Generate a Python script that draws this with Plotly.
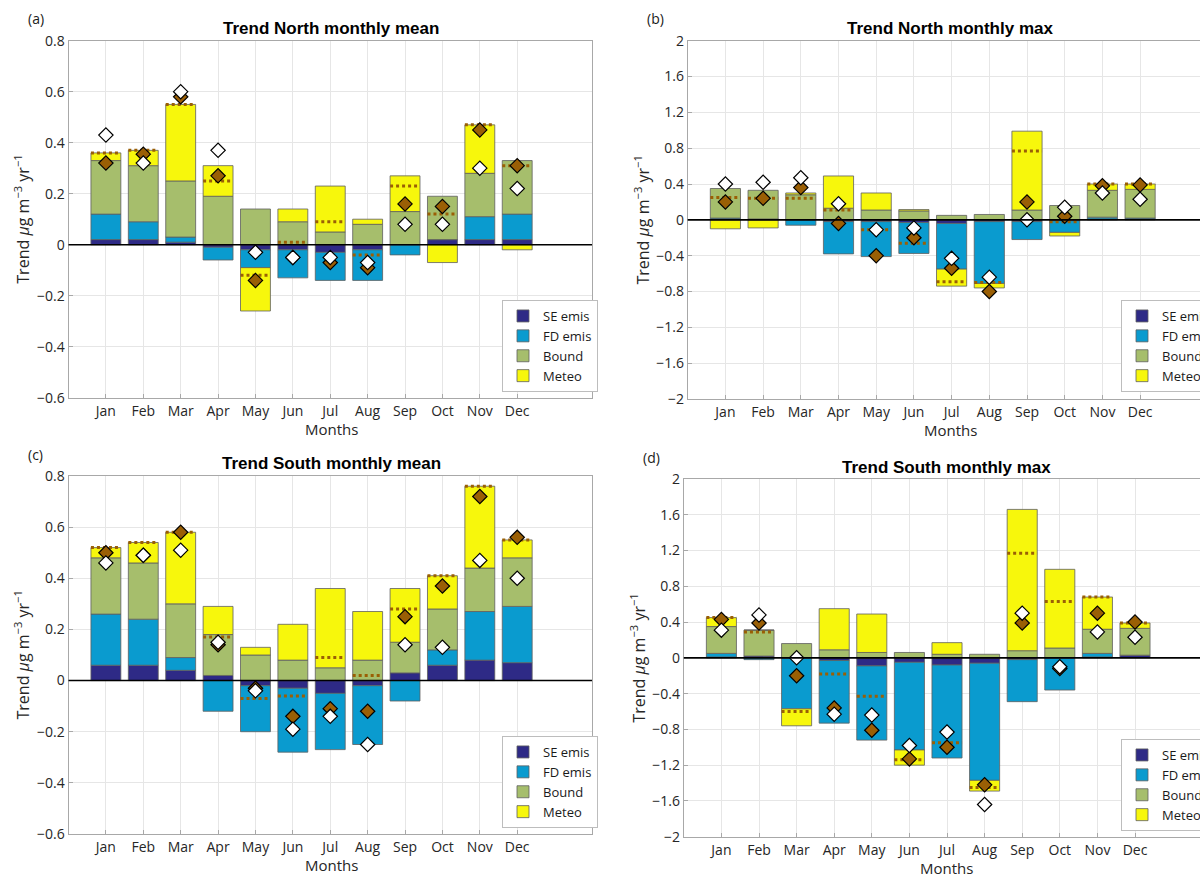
import numpy as np
import plotly.graph_objects as go

months = ['Jan', 'Feb', 'Mar', 'Apr', 'May', 'Jun', 'Jul', 'Aug', 'Sep', 'Oct', 'Nov', 'Dec']
series_names = ['SE emis', 'FD emis', 'Bound', 'Meteo']

# (a) Trend North monthly mean
a_se = [0.02, 0.02, 0.01, -0.01, -0.02, -0.02, -0.03, -0.02, 0.0, 0.02, 0.02, 0.02]
a_fd = [0.10, 0.07, 0.02, -0.05, -0.07, -0.11, -0.11, -0.12, -0.04, 0.0, 0.09, 0.10]
a_bound = [0.21, 0.22, 0.22, 0.19, 0.14, 0.09, 0.05, 0.08, 0.13, 0.17, 0.17, 0.21]
a_meteo = [0.03, 0.06, 0.30, 0.12, -0.17, 0.05, 0.18, 0.02, 0.14, -0.07, 0.19, -0.02]
a_brown = [0.32, 0.355, 0.58, 0.27, -0.14, -0.05, -0.07, -0.09, 0.16, 0.15, 0.45, 0.31]
a_white = [0.43, 0.32, 0.60, 0.37, -0.03, -0.05, -0.05, -0.07, 0.08, 0.08, 0.30, 0.22]

# (b) Trend North monthly max
b_se = [0.01, 0.01, 0.0, -0.02, -0.02, -0.03, -0.04, -0.02, -0.02, -0.01, 0.01, 0.01]
b_fd = [0.01, 0.0, -0.06, -0.36, -0.39, -0.345, -0.51, -0.69, -0.20, -0.13, 0.02, 0.01]
b_bound = [0.33, 0.32, 0.28, 0.13, 0.11, 0.10, 0.05, 0.06, 0.11, 0.16, 0.30, 0.32]
b_meteo = [-0.10, -0.09, 0.02, 0.36, 0.19, 0.015, -0.19, -0.05, 0.88, -0.04, 0.07, 0.06]
b_brown = [0.20, 0.24, 0.36, -0.04, -0.40, -0.20, -0.54, -0.80, 0.20, 0.04, 0.38, 0.39]
b_white = [0.40, 0.42, 0.47, 0.18, -0.11, -0.09, -0.43, -0.64, 0.0, 0.14, 0.30, 0.23]

# (c) Trend South monthly mean
c_se = [0.06, 0.06, 0.04, 0.02, -0.02, -0.03, -0.05, -0.02, 0.03, 0.06, 0.08, 0.07]
c_fd = [0.20, 0.18, 0.05, -0.12, -0.18, -0.25, -0.22, -0.23, -0.08, 0.06, 0.19, 0.22]
c_bound = [0.22, 0.22, 0.21, 0.16, 0.10, 0.08, 0.05, 0.08, 0.12, 0.16, 0.17, 0.19]
c_meteo = [0.04, 0.08, 0.28, 0.11, 0.03, 0.14, 0.31, 0.19, 0.21, 0.13, 0.32, 0.07]
c_brown = [0.50, 0.49, 0.58, 0.14, -0.03, -0.14, -0.11, -0.12, 0.25, 0.37, 0.72, 0.56]
c_white = [0.46, 0.49, 0.51, 0.15, -0.04, -0.19, -0.14, -0.25, 0.14, 0.13, 0.47, 0.40]

# (d) Trend South monthly max
d_se = [0.01, 0.02, 0.0, -0.03, -0.09, -0.05, -0.08, -0.06, -0.02, 0.0, 0.01, 0.03]
d_fd = [0.04, -0.02, -0.57, -0.70, -0.83, -0.98, -1.04, -1.31, -0.47, -0.36, 0.04, 0.0]
d_bound = [0.30, 0.29, 0.16, 0.09, 0.06, 0.06, 0.04, 0.04, 0.08, 0.11, 0.27, 0.30]
d_meteo = [0.10, 0.0, -0.19, 0.46, 0.43, -0.17, 0.13, -0.12, 1.58, 0.88, 0.36, 0.06]
d_brown = [0.43, 0.39, -0.20, -0.56, -0.81, -1.13, -1.00, -1.42, 0.39, -0.12, 0.50, 0.40]
d_white = [0.31, 0.48, 0.0, -0.63, -0.64, -0.98, -0.83, -1.64, 0.50, -0.10, 0.29, 0.23]

titles = ['Trend North monthly mean', 'Trend North monthly max',
          'Trend South monthly mean', 'Trend South monthly max']
panel_labels = ['(a)', '(b)', '(c)', '(d)']

mean_ticks = [-0.6, -0.4, -0.2, 0, 0.2, 0.4, 0.6, 0.8]
mean_ticktext = ['\u22120.6', '\u22120.4', '\u22120.2', '0', '0.2', '0.4', '0.6', '0.8']
max_ticks = [-2, -1.6, -1.2, -0.8, -0.4, 0, 0.4, 0.8, 1.2, 1.6, 2]
max_ticktext = ['\u22122', '\u22121.6', '\u22121.2', '\u22120.8', '\u22120.4', '0',
                '0.4', '0.8', '1.2', '1.6', '2']

colors = ['#2E2A86', '#0A9BCF', '#A6BE6C', '#F7F70C']
brown = '#9A5F05'
FONT = 'Open Sans'

panels = [
    dict(data=[a_se, a_fd, a_bound, a_meteo], brown=a_brown, white=a_white,
         xd=[68.5, 592], yd=[40.7, 397.7], yr=[-0.6, 0.8], xr=[0, 14],
         tv=mean_ticks, tt=mean_ticktext, leg=(502, 392), mirror_y=True, cx=331),
    dict(data=[b_se, b_fd, b_bound, b_meteo], brown=b_brown, white=b_white,
         xd=[687.7, 1200], yd=[40.7, 399], yr=[-2, 2], xr=[0, (1200 - 687.7) / 37.7],
         tv=max_ticks, tt=max_ticktext, leg=(1121, 392), mirror_y=False, cx=950),
    dict(data=[c_se, c_fd, c_bound, c_meteo], brown=c_brown, white=c_white,
         xd=[68.5, 592], yd=[476, 834], yr=[-0.6, 0.8], xr=[0, 14],
         tv=mean_ticks, tt=mean_ticktext, leg=(502, 828), mirror_y=True, cx=331),
    dict(data=[d_se, d_fd, d_bound, d_meteo], brown=d_brown, white=d_white,
         xd=[683.8, 1200], yd=[479, 836.7], yr=[-2, 2], xr=[0, (1200 - 683.8) / 37.6],
         tv=max_ticks, tt=max_ticktext, leg=(1121, 831), mirror_y=False, cx=946),
]

W, H = 1200, 874
xpos = [i + 1 for i in range(len(months))]
fig = go.Figure()
layout = dict(width=W, height=H, margin=dict(l=0, r=0, t=0, b=0, pad=0, autoexpand=False),
              plot_bgcolor='white', paper_bgcolor='white', barmode='relative',
              bargap=0.2, showlegend=True)
annotations = []
shapes = []

for k, p in enumerate(panels):
    sfx = '' if k == 0 else str(k + 1)
    xa, ya = 'x' + sfx, 'y' + sfx
    legname = 'legend' + sfx
    for name, vals, col in zip(series_names, p['data'], colors):
        fig.add_trace(go.Bar(
            x=xpos, y=vals, name=name,
            marker=dict(color=col, line=dict(color='rgba(95,95,95,0.8)', width=1)),
            width=0.8, xaxis=xa, yaxis=ya, legend=legname, showlegend=True))
    total = np.sum(np.array(p['data']), axis=0)
    lx, ly = [], []
    for i, s in zip(xpos, total):
        lx += [i - 0.4, i + 0.4, None]
        ly += [float(s), float(s), None]
    fig.add_trace(go.Scatter(x=lx, y=ly, mode='lines', line=dict(color=brown, width=3, dash='dot'),
                             xaxis=xa, yaxis=ya, showlegend=False, hoverinfo='skip'))
    fig.add_trace(go.Scatter(x=xpos, y=p['brown'], mode='markers',
                             marker=dict(symbol='diamond', size=11, color=brown,
                                         line=dict(color='black', width=1.2)),
                             xaxis=xa, yaxis=ya, showlegend=False))
    fig.add_trace(go.Scatter(x=xpos, y=p['white'], mode='markers',
                             marker=dict(symbol='diamond', size=11, color='white',
                                         line=dict(color='black', width=1.2)),
                             xaxis=xa, yaxis=ya, showlegend=False))

    xdom = [p['xd'][0] / W, min(p['xd'][1] / W, 1.0)]
    ydom = [1 - p['yd'][1] / H, 1 - p['yd'][0] / H]
    axcol = '#A8A8A8'
    layout['xaxis' + sfx] = dict(domain=xdom, range=p['xr'], anchor=ya, tickvals=xpos, ticktext=months,
                                 tickmode='array', automargin=False,
                                 showgrid=True, gridcolor='#E6E6E6', gridwidth=1, zeroline=False,
                                 showline=True, linecolor=axcol, linewidth=1, mirror=True,
                                 ticks='inside', ticklen=4, tickcolor=axcol,
                                 tickfont=dict(family=FONT, size=14, color='#262626'))
    layout['yaxis' + sfx] = dict(domain=ydom, range=p['yr'], anchor=xa, tickvals=p['tv'], ticktext=p['tt'],
                                 tickmode='array', automargin=False,
                                 showgrid=True, gridcolor='#E6E6E6', gridwidth=1, zeroline=False,
                                 showline=True, linecolor=axcol, linewidth=1, mirror=p['mirror_y'],
                                 ticks='inside', ticklen=4, tickcolor=axcol,
                                 tickfont=dict(family=FONT, size=14, color='#262626'))
    layout[legname] = dict(x=p['leg'][0] / W, y=1 - p['leg'][1] / H, xanchor='left', yanchor='bottom',
                           bgcolor='white', bordercolor='#BDBDBD', borderwidth=1, traceorder='normal',
                           font=dict(family=FONT, size=13, color='#1a1a1a'), itemwidth=30,
                           tracegroupgap=0)
    shapes.append(dict(type='line', xref=xa + ' domain', yref=ya, x0=0, x1=1, y0=0, y1=0,
                       line=dict(color='black', width=1.6), layer='above'))
    cx = p['cx']
    top = p['yd'][0]
    bot = p['yd'][1]
    annotations.append(dict(text='<b>' + titles[k] + '</b>', x=cx / W, y=1 - (top - 12) / H,
                            xref='paper', yref='paper', showarrow=False, yanchor='middle', xanchor='center',
                            font=dict(family='Liberation Sans', size=17, color='black')))
    annotations.append(dict(text=panel_labels[k], x=(p['xd'][0] - 43) / W, y=1 - (top - 22) / H,
                            xref='paper', yref='paper', showarrow=False, xanchor='left', yanchor='middle',
                            font=dict(family=FONT, size=14, color='#1a1a1a')))
    annotations.append(dict(text='Months', x=cx / W, y=1 - (bot + 31) / H,
                            xref='paper', yref='paper', showarrow=False, xanchor='center', yanchor='middle',
                            font=dict(family=FONT, size=15, color='#262626')))
    annotations.append(dict(text='Trend <i>\u03bc</i>g m<sup>\u22123</sup> yr<sup>\u22121</sup>',
                            x=(p['xd'][0] - 46) / W, y=1 - (top + bot) / 2 / H, textangle=-90,
                            xref='paper', yref='paper', showarrow=False, xanchor='center', yanchor='middle',
                            font=dict(family=FONT, size=16, color='#262626')))

layout['annotations'] = annotations
layout['shapes'] = shapes
fig.update_layout(**layout)
fig.write_html('out.html', config={'displayModeBar': False},
               post_script="document.body.style.margin='0';document.body.style.overflow='hidden';")
